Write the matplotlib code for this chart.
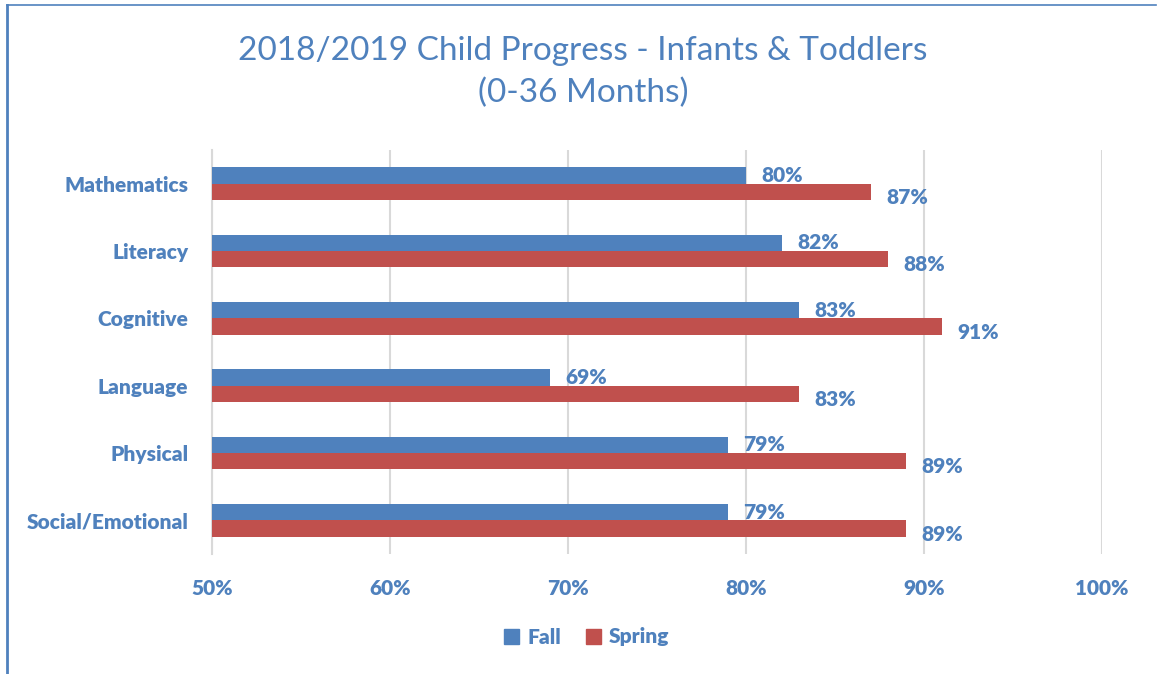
import matplotlib.pyplot as plt
from matplotlib.lines import Line2D
from matplotlib.patches import Patch

categories = ['Mathematics', 'Literacy', 'Cognitive', 'Language', 'Physical', 'Social/Emotional']
fall = [80, 82, 83, 69, 79, 79]
spring = [87, 88, 91, 83, 89, 89]
x_ticks = [50, 60, 70, 80, 90, 100]

blue = '#4F81BD'
red = '#C0504D'
text_blue = '#4F81BD'
wt = 'heavy'

plt.rcParams['font.family'] = ['Lato', 'DejaVu Sans']

fig = plt.figure(figsize=(11.57, 6.74), dpi=100)
ax = fig.add_axes([212 / 1157, 1 - 554 / 674, (1102 - 212) / 1157, (554 - 150) / 674])

h = 0.245
ys = list(range(len(categories)))
fall_y = [y - h / 2 for y in ys]
spring_y = [y + h / 2 for y in ys]
ax.barh(fall_y, [v - 50 for v in fall], left=50, height=h, color=blue, zorder=3)
ax.barh(spring_y, [v - 50 for v in spring], left=50, height=h, color=red, zorder=3)

for y, v in zip(fall_y, fall):
    ax.annotate(f'{v}%', (v, y), xytext=(11, 0), textcoords='offset points',
                va='center', ha='left', fontsize=15, fontweight=wt, color=text_blue)
for y, v in zip(spring_y, spring):
    ax.annotate(f'{v}%', (v, y), xytext=(11, -4), textcoords='offset points',
                va='center', ha='left', fontsize=15, fontweight=wt, color=text_blue)

ax.set_xlim(50, 100)
ax.set_ylim(len(categories) - 0.5, -0.5)
ax.set_xticks(x_ticks)
ax.set_xticklabels([f'{t}%' for t in x_ticks])
ax.set_yticks(ys)
ax.set_yticklabels(categories)
ax.tick_params(length=0, labelsize=15, labelcolor=text_blue)
ax.tick_params(axis='y', pad=17)
ax.tick_params(axis='x', pad=18)
for lbl in ax.get_xticklabels() + ax.get_yticklabels():
    lbl.set_fontweight(wt)

ax.grid(axis='x', color='#D9D9D9', linewidth=1.5, zorder=0)
for s in ['top', 'right', 'bottom']:
    ax.spines[s].set_visible(False)
ax.spines['left'].set_color('#D9D9D9')
ax.spines['left'].set_linewidth(1.5)

fig.text(583 / 1157, 1 - 72 / 674, '2018/2019 Child Progress - Infants & Toddlers\n(0-36 Months)',
         ha='center', va='center', fontsize=24, color=text_blue, linespacing=1.5)

handles = [Patch(color=blue, label='Fall'), Patch(color=red, label='Spring')]
leg = fig.legend(handles=handles, loc='center', bbox_to_anchor=(587 / 1157, 1 - 637 / 674),
                 ncol=2, frameon=False, handlelength=0.7, handleheight=0.7,
                 columnspacing=1.2, handletextpad=0.4,
                 prop={'size': 15, 'weight': wt})
for t in leg.get_texts():
    t.set_color(text_blue)

fig.add_artist(Line2D([7 / 1157, 7 / 1157], [0, 1 - 5 / 674], color=blue, linewidth=2))
fig.add_artist(Line2D([7 / 1157, 1156 / 1157], [1 - 5 / 674, 1 - 5 / 674], color=blue, linewidth=1.2))

fig.savefig('out.png', dpi=100)
